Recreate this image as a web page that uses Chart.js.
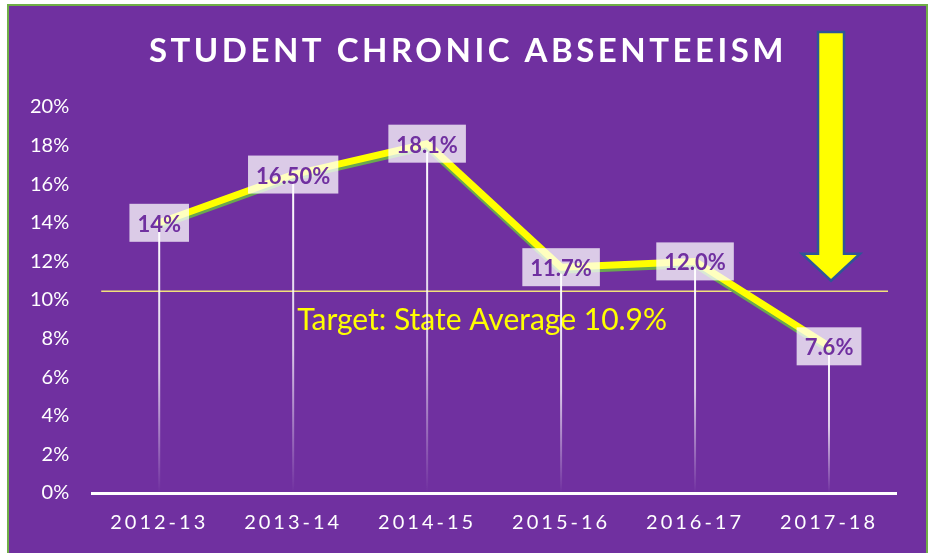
<!DOCTYPE html>
<html>
<head>
<meta charset="utf-8">
<script src="https://cdn.jsdelivr.net/npm/chart.js@4.4.1/dist/chart.umd.min.js"></script>
<style>
html, body { margin: 0; padding: 0; background: #fff; width: 933px; height: 553px; overflow: hidden; }
#frame { position: absolute; left: 7px; top: 4px; width: 917px; height: 560px; background: #7030A0; border: 2px solid #70AD47; }
#chart { position: absolute; left: 0; top: 0; }
</style>
</head>
<body>
<div id="frame"></div>
<canvas id="chart" width="933" height="553"></canvas>
<script>
const titleText = 'STUDENT CHRONIC ABSENTEEISM';
const years = ['2012-13', '2013-14', '2014-15', '2015-16', '2016-17', '2017-18'];
const absentRates = [14, 16.5, 18.1, 11.7, 12.0, 7.6];
const rateLabels = ['14%', '16.50%', '18.1%', '11.7%', '12.0%', '7.6%'];
const yMin = 0, yMax = 20, yStep = 2;
const targetLevel = 10.45; // where the line sits in the picture
const targetText = 'Target: State Average 10.9%';
const arrowTipLevel = 11.0;

const purple = '#7030A0';

const decor = {
	id: 'decor',
	beforeDatasetsDraw(chart) {
		const { ctx, chartArea: a, scales: { x, y } } = chart;
		const meta = chart.getDatasetMeta(0);
		ctx.save();
		// target line + text
		const ty = y.getPixelForValue(targetLevel);
		ctx.strokeStyle = '#F2E27A';
		ctx.lineWidth = 1.5;
		ctx.beginPath();
		ctx.moveTo(a.left + 9, ty);
		ctx.lineTo(a.right - 8, ty);
		ctx.stroke();
		ctx.fillStyle = '#FFFF00';
		ctx.font = '30px Lato';
		ctx.textAlign = 'left';
		ctx.textBaseline = 'middle';
		ctx.fillText(targetText, x.getPixelForValue(1) + 4, ty + 29);
		// drop lines, fading out towards the axis
		meta.data.forEach(p => {
			const g = ctx.createLinearGradient(0, p.y, 0, a.bottom);
			g.addColorStop(0, 'rgba(255,255,255,1)');
			g.addColorStop(0.55, 'rgba(255,255,255,0.75)');
			g.addColorStop(1, 'rgba(255,255,255,0)');
			ctx.strokeStyle = g;
			ctx.lineWidth = 2;
			ctx.beginPath();
			ctx.moveTo(p.x, p.y);
			ctx.lineTo(p.x, a.bottom);
			ctx.stroke();
		});
		ctx.restore();
	},
	beforeDatasetDraw(chart) {
		const ctx = chart.ctx;
		ctx.save();
		ctx.shadowColor = '#6AA84F';
		ctx.shadowOffsetX = 0;
		ctx.shadowOffsetY = 3;
		ctx.shadowBlur = 0;
	},
	afterDatasetDraw(chart) {
		chart.ctx.restore();
	},
	afterDatasetsDraw(chart) {
		const ctx = chart.ctx;
		const meta = chart.getDatasetMeta(0);
		ctx.save();
		ctx.font = 'bold 22px Lato';
		ctx.textAlign = 'center';
		ctx.textBaseline = 'middle';
		meta.data.forEach((p, i) => {
			const txt = rateLabels[i];
			const w = ctx.measureText(txt).width + 16;
			const h = 38;
			ctx.fillStyle = 'rgba(255,255,255,0.75)';
			ctx.fillRect(p.x - w / 2, p.y - h / 2, w, h);
			ctx.fillStyle = purple;
			ctx.fillText(txt, p.x, p.y + 2);
		});
		ctx.restore();
		// x tick labels (drawn next, z:1) are letter-spaced
		ctx.letterSpacing = '3px';
	},
	afterDraw(chart) {
		const { ctx, scales: { x, y } } = chart;
		ctx.letterSpacing = '0px';
		ctx.save();
		// title
		ctx.letterSpacing = '3.5px';
		ctx.font = 'bold 33px Lato';
		ctx.fillStyle = '#fff';
		ctx.textAlign = 'center';
		ctx.textBaseline = 'middle';
		ctx.fillText(titleText, chart.width / 2 + 1.5, 51);
		ctx.letterSpacing = '0px';
		// big arrow down to the last year
		const cx = x.getPixelForValue(5) + 2;
		const tip = y.getPixelForValue(arrowTipLevel);
		const headTop = tip - 27;
		const top = 32;
		ctx.beginPath();
		ctx.moveTo(cx - 13, top);
		ctx.lineTo(cx + 13, top);
		ctx.lineTo(cx + 13, headTop);
		ctx.lineTo(cx + 29, headTop);
		ctx.lineTo(cx, tip);
		ctx.lineTo(cx - 29, headTop);
		ctx.lineTo(cx - 13, headTop);
		ctx.closePath();
		ctx.fillStyle = '#FFFF00';
		ctx.fill();
		ctx.strokeStyle = '#2F5597';
		ctx.lineWidth = 2.5;
		ctx.stroke();
		ctx.restore();
	}
};

new Chart(document.getElementById('chart'), {
	type: 'line',
	data: {
		labels: years,
		datasets: [{
			data: absentRates,
			borderColor: '#FFFF00',
			borderWidth: 7,
			pointRadius: 0,
			tension: 0,
			borderJoinStyle: 'round',
			borderCapStyle: 'round',
		}]
	},
	options: {
		responsive: false,
		animation: false,
		layout: { padding: { top: 107, left: 7, right: 37, bottom: 0 } },
		plugins: {
			legend: { display: false },
			tooltip: { enabled: false },
		},
		scales: {
			x: {
				offset: true,
				grid: { display: false, drawTicks: false },
				border: { color: '#fff', width: 3 },
				ticks: {
					z: 1,
					color: '#fff',
					padding: 18,
					font: { family: 'Lato', size: 20 },
				},
			},
			y: {
				min: yMin, max: yMax,
				grid: { display: false, drawTicks: false },
				border: { display: false },
				ticks: {
					stepSize: yStep,
					color: '#fff',
					padding: 23,
					font: { family: 'Lato', size: 20 },
					callback: (v) => `${v}%`,
				},
			},
		},
	},
	plugins: [decor],
});
</script>
</body>
</html>
